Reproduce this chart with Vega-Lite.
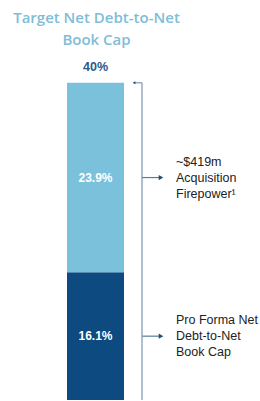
{
  "$schema": "https://vega.github.io/schema/vega-lite/v6.json",
  "autosize": {"type": "fit", "contains": "padding"},
  "width": 260,
  "height": 401,
  "padding": 0,
  "background": "white",
  "config": {"view": {"stroke": null}, "font": "Liberation Sans"},
  "data": {
    "values": [
      {"segment": "Pro Forma Net Debt-to-Net Book Cap", "order": 1, "value": 16.1, "label": "16.1%", "note": "Pro Forma Net\nDebt-to-Net\nBook Cap"},
      {"segment": "Acquisition Firepower", "order": 2, "value": 23.9, "label": "23.9%", "note": "~$419m\nAcquisition\nFirepower¹"}
    ]
  },
  "transform": [
    {"stack": "value", "groupby": [], "sort": [{"field": "order"}], "as": ["y0", "y1"]},
    {"calculate": "(datum.y0 + datum.y1) / 2", "as": "mid"}
  ],
  "layer": [
    {
      "mark": {"type": "bar"},
      "encoding": {
        "x": {"datum": 67, "type": "quantitative", "scale": {"domain": [0, 260], "nice": false, "zero": false}, "axis": null},
        "x2": {"datum": 124},
        "y": {"field": "y0", "type": "quantitative", "scale": {"domain": [0, 50.44], "nice": false, "zero": false}, "axis": null},
        "y2": {"field": "y1"},
        "color": {"field": "segment", "type": "nominal", "legend": null,
          "scale": {"domain": ["Pro Forma Net Debt-to-Net Book Cap", "Acquisition Firepower"], "range": ["#0c4a80", "#7cc1dc"]}}
      }
    },
    {
      "mark": {"type": "text", "color": "white", "fontWeight": "bold", "fontSize": 12, "baseline": "middle", "align": "center"},
      "encoding": {
        "x": {"datum": 95.5, "type": "quantitative"},
        "y": {"field": "mid", "type": "quantitative"},
        "text": {"field": "label"}
      }
    },
    {
      "mark": {"type": "rule", "color": "#5a7a9e", "strokeWidth": 1.2},
      "encoding": {
        "x": {"datum": 142, "type": "quantitative"},
        "x2": {"datum": 159},
        "y": {"field": "mid", "type": "quantitative"}
      }
    },
    {
      "mark": {"type": "point", "shape": "triangle-right", "filled": true, "color": "#1f4e7a", "size": 28, "opacity": 1},
      "encoding": {
        "x": {"datum": 161, "type": "quantitative"},
        "y": {"field": "mid", "type": "quantitative"}
      }
    },
    {
      "mark": {"type": "text", "color": "#222222", "fontSize": 12.5, "align": "left", "baseline": "middle", "lineBreak": "\n", "lineHeight": 16, "dy": -16},
      "encoding": {
        "x": {"datum": 176, "type": "quantitative"},
        "y": {"field": "mid", "type": "quantitative"},
        "text": {"field": "note"}
      }
    },
    {
      "data": {"values": [{}]},
      "layer": [
        {
          "mark": {"type": "rule", "color": "#7d95b0", "strokeWidth": 1.2},
          "encoding": {
            "x": {"datum": 142, "type": "quantitative"},
            "y": {"datum": 0, "type": "quantitative"},
            "y2": {"datum": 40}
          }
        },
        {
          "mark": {"type": "rule", "color": "#7d95b0", "strokeWidth": 1.2},
          "encoding": {
            "x": {"datum": 134, "type": "quantitative"},
            "x2": {"datum": 142},
            "y": {"datum": 40, "type": "quantitative"}
          }
        },
        {
          "mark": {"type": "point", "shape": "triangle-left", "filled": true, "color": "#1f4e7a", "size": 10, "opacity": 1},
          "encoding": {
            "x": {"datum": 134, "type": "quantitative"},
            "y": {"datum": 40, "type": "quantitative"}
          }
        },
        {
          "mark": {"type": "text", "color": "#2a5a8c", "fontWeight": "bold", "fontSize": 12.5, "align": "center", "baseline": "middle"},
          "encoding": {
            "x": {"datum": 95.5, "type": "quantitative"},
            "y": {"datum": 42.0, "type": "quantitative"},
            "text": {"value": "40%"}
          }
        },
        {
          "mark": {"type": "text", "font": "Open Sans", "color": "#80bdd7", "fontWeight": 600, "fontSize": 15, "align": "center", "baseline": "middle", "lineBreak": "\n", "lineHeight": 22},
          "encoding": {
            "x": {"datum": 96.5, "type": "quantitative"},
            "y": {"datum": 48.18, "type": "quantitative"},
            "text": {"value": "Target Net Debt-to-Net\nBook Cap"}
          }
        }
      ]
    }
  ]
}
